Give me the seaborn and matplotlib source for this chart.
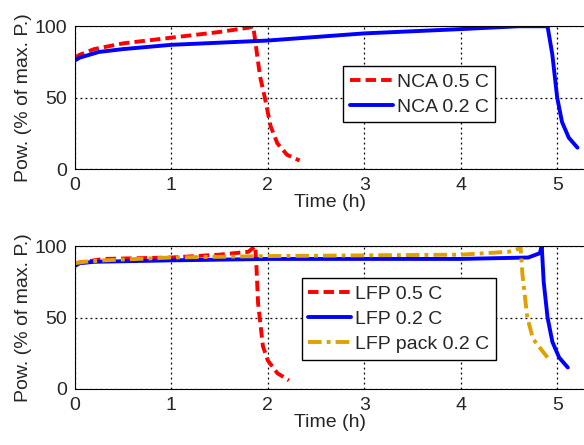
import pandas as pd
import seaborn as sns
import matplotlib.pyplot as plt

# Power vs time
nca05_t = [0, 0.05, 0.2, 0.5, 1.0, 1.5, 1.8, 1.85, 1.88, 1.92, 1.97, 2.03, 2.1, 2.2, 2.33]
nca05_p = [78, 80, 84, 88, 92, 96, 99, 100, 85, 65, 50, 30, 18, 10, 6]
nca02_t = [0, 0.05, 0.25, 0.5, 1.0, 2.0, 3.0, 4.0, 4.6, 4.9, 4.95, 5.0, 5.05, 5.12, 5.21]
nca02_p = [76, 78, 82, 84, 87, 90, 95, 98, 100, 100, 80, 50, 33, 22, 15]

lfp05_t = [0, 0.1, 0.3, 1.0, 1.5, 1.8, 1.87, 1.88, 1.9, 1.95, 2.0, 2.1, 2.22]
lfp05_p = [88, 89, 91, 92, 94, 96, 100, 90, 60, 30, 20, 11, 6]
lfp02_t = [0, 0.05, 0.2, 1.0, 2.0, 3.0, 4.0, 4.7, 4.82, 4.84, 4.86, 4.9, 4.95, 5.02, 5.11]
lfp02_p = [86, 88, 89, 90, 91, 91, 91, 92, 95, 100, 75, 50, 33, 22, 15]
pack_t = [0, 0.1, 0.3, 1.0, 2.0, 3.0, 4.0, 4.5, 4.6, 4.62, 4.64, 4.69, 4.75, 4.83, 4.9]
pack_p = [88, 89, 90, 92, 93, 93.5, 94, 96, 98, 100, 80, 50, 35, 28, 22]

top_df = pd.concat([
    pd.DataFrame({'t': nca05_t, 'p': nca05_p, 'cell': 'NCA 0.5 C'}),
    pd.DataFrame({'t': nca02_t, 'p': nca02_p, 'cell': 'NCA 0.2 C'}),
])
bot_df = pd.concat([
    pd.DataFrame({'t': lfp05_t, 'p': lfp05_p, 'cell': 'LFP 0.5 C'}),
    pd.DataFrame({'t': lfp02_t, 'p': lfp02_p, 'cell': 'LFP 0.2 C'}),
    pd.DataFrame({'t': pack_t, 'p': pack_p, 'cell': 'LFP pack 0.2 C'}),
])

sns.set_style('white')
plt.rcParams['font.family'] = ['Liberation Sans', 'DejaVu Sans']
plt.rcParams['font.size'] = 14

fig = plt.figure(figsize=(5.84, 4.45), dpi=100)
ax1 = fig.add_axes([0.128, 0.620, 0.874, 0.321])
ax2 = fig.add_axes([0.128, 0.126, 0.874, 0.321])

top_pal = {'NCA 0.5 C': 'red', 'NCA 0.2 C': 'blue'}
top_dash = {'NCA 0.5 C': (2.7, 1.3), 'NCA 0.2 C': ''}
sns.lineplot(data=top_df, x='t', y='p', hue='cell', style='cell', palette=top_pal,
             dashes=top_dash, sort=False, estimator=None, linewidth=2.8, ax=ax1)

bot_pal = {'LFP 0.5 C': 'red', 'LFP 0.2 C': 'blue', 'LFP pack 0.2 C': '#E0A000'}
bot_dash = {'LFP 0.5 C': (2.7, 1.3), 'LFP 0.2 C': '', 'LFP pack 0.2 C': (3.5, 1.3, 1, 1.3)}
sns.lineplot(data=bot_df, x='t', y='p', hue='cell', style='cell', palette=bot_pal,
             dashes=bot_dash, sort=False, estimator=None, linewidth=2.8, ax=ax2)

for ax in (ax1, ax2):
    ax.set_xlim(0, 5.29)
    ax.set_ylim(0, 100)
    ax.set_xticks([0, 1, 2, 3, 4, 5])
    ax.set_yticks([0, 50, 100])
    ax.grid(True, color='black', linestyle=(0, (1.5, 2.5)), linewidth=0.9)
    ax.set_xlabel('Time (h)', labelpad=0)
    ax.set_ylabel('Pow. (% of max. P.)', labelpad=2)
    ax.tick_params(labelsize=14, pad=2)
    for s in ax.spines.values():
        s.set_color('black')
        s.set_linewidth(0.8)

leg_kw = dict(loc='center', fancybox=False, edgecolor='black', framealpha=1, fontsize=14,
              handlelength=2.2, borderpad=0.35, labelspacing=0.38, handletextpad=0.2)
ax1.legend(bbox_to_anchor=(0.675, 0.524), **leg_kw)
ax2.legend(bbox_to_anchor=(0.635, 0.49), **leg_kw)

fig.savefig('out.png', dpi=100)
